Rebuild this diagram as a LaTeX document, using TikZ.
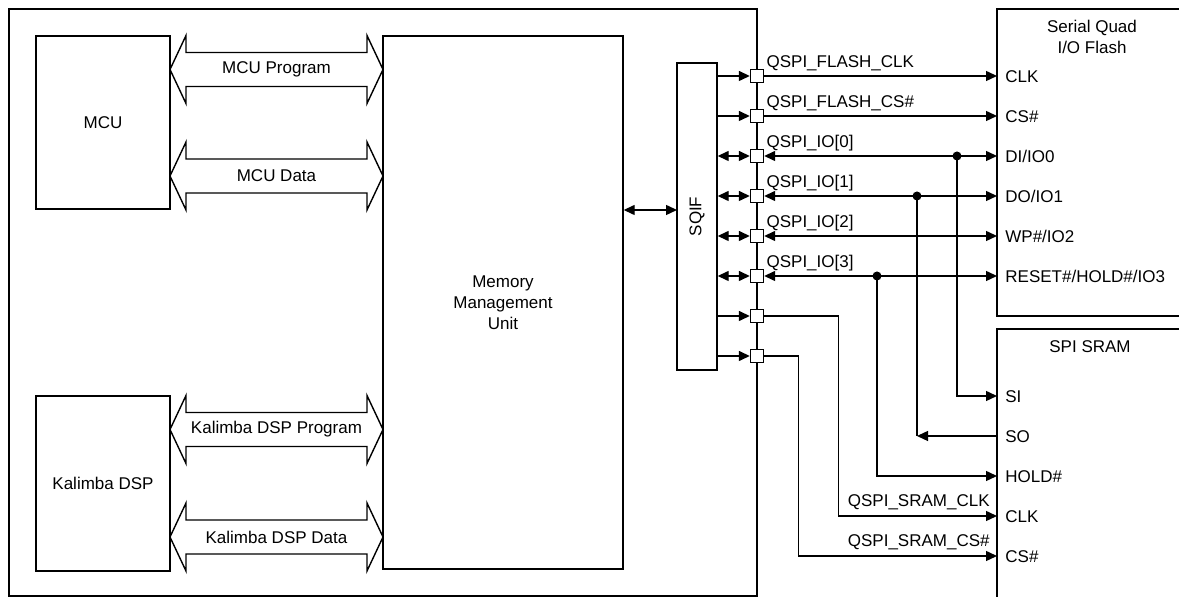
\documentclass[tikz,border=0pt]{standalone}
\usepackage{fontspec}
\setmainfont{Liberation Sans}
\usetikzlibrary{arrows.meta,positioning}

\tikzset{
  >={Triangle[length=5.5pt,width=5pt]},
  line/.style={line width=0.7pt},
  blk/.style={draw, line width=0.7pt, inner sep=0pt, align=center},
  pinsq/.style={draw, fill=white, line width=0.7pt, minimum size=6.5pt, inner sep=0pt},
  pinlbl/.style={anchor=west, inner xsep=4pt, inner ysep=0pt, text height=6.1pt, text depth=0pt},
  siglbl/.style={inner sep=0pt},
  dot/.style={fill=black}
}

% double-headed bus between the cores and the MMU
\newcommand{\busarrow}[3]{%
  \draw[line] (170,#1) -- ++(16,-34) -- ++(0,17) -- ++(181,0) -- ++(0,-17)
    -- ++(16,34) -- ++(-16,34) -- ++(0,-17) -- ++(-181,0) -- ++(0,17) -- cycle;
  \node (#2) at (276.5,#1) {#3};
}

\begin{document}
\begin{tikzpicture}[x=0.5pt,y=-0.5pt,font=\fontsize{8.5}{10.5}\selectfont]
  \useasboundingbox (0,0) rectangle (1179,597);

  % chip outline
  \draw[line] (9,9) rectangle (757,596);

  % cores, MMU and SQIF
  \node[blk, minimum width=67pt, minimum height=86.5pt] (mcu) at (103,122.5) {MCU};
  \node[blk, minimum width=67pt, minimum height=87.5pt] (dsp) at (103,483.5) {Kalimba DSP};
  \node[blk, minimum width=120pt, minimum height=266.5pt] (mmu) at (503,302.5) {Memory\\Management\\Unit};
  \node[blk, minimum width=20pt, minimum height=153.5pt] (sqif) at (697,216.5) {};
  \node[rotate=90] (sqiflbl) at (sqif.center) {SQIF};

  \busarrow{69.5}{mcuprog}{MCU Program}
  \busarrow{176}{mcudata}{MCU Data}
  \busarrow{429.5}{dspprog}{Kalimba DSP Program}
  \busarrow{537}{dspdata}{Kalimba DSP Data}

  \coordinate (sq) at (677,210);
  \draw[line,<->] (mmu.east |- sq) -- (sq);

  % external memories
  \draw[line] (997,9) rectangle (1190,316);
  \node[align=center] (flashttl) at (1092,36.5) {Serial Quad\\I/O Flash};
  \draw[line] (997,329) rectangle (1190,610);
  \node (sramttl) at (1090,347) {SPI SRAM};

  % pins
  \foreach \i in {1,...,8}
    \node[pinsq] (p\i) at (757,36+40*\i) {};

  \foreach \n/\t [count=\i] in {fclk/CLK, fcs/CS\#, fdi/{DI/IO0}, fdo/{DO/IO1}, fwp/{WP\#/IO2}, frst/{RESET\#/HOLD\#/IO3}}
    \node[pinlbl] (\n) at (997,36+40*\i) {\t};
  \foreach \n/\t [count=\i] in {ssi/SI, sso/SO, shold/HOLD\#, sclk/CLK, scs/CS\#}
    \node[pinlbl] (\n) at (997,356+40*\i) {\t};

  \foreach \t [count=\i] in {QSPI\_FLASH\_CLK, QSPI\_FLASH\_CS\#, {QSPI\_IO[0]}, {QSPI\_IO[1]}, {QSPI\_IO[2]}, {QSPI\_IO[3]}}
    \node[siglbl, anchor=base west] (l\i) at ([xshift=1pt,yshift=4pt]p\i.east) {\t};

  % SQIF to pins
  \foreach \i in {1,2,7,8}
    \draw[line,->] (sqif.east |- p\i) -- (p\i.west);
  \foreach \i in {3,...,6}
    \draw[line,<->] (sqif.east |- p\i) -- (p\i.west);

  % pins to flash
  \draw[line,->] (p1.east) -- (fclk.west);
  \draw[line,->] (p2.east) -- (fcs.west);
  \draw[line,<->] (p3.east) -- (fdi.west);
  \draw[line,<->] (p4.east) -- (fdo.west);
  \draw[line,<->] (p5.east) -- (fwp.west);
  \draw[line,<->] (p6.east) -- (frst.west);

  % taps to SRAM
  \coordinate (j0) at (957,156);
  \coordinate (j1) at (917,196);
  \coordinate (j3) at (877,276);
  \foreach \j in {j0,j1,j3}
    \fill[dot] (\j) circle (2.25pt);
  \draw[line,->] (j0) |- (ssi.west);
  \draw[line] (j1) -- (j1 |- sso);
  \draw[line,->] (sso.west) -- (j1 |- sso);
  \draw[line,->] (j3) |- (shold.west);
  \draw[line,->] (p7.east) -- ++(74,0) |- (sclk.west);
  \draw[line,->] (p8.east) -- ++(34,0) |- (scs.west);
  \node[siglbl, anchor=base east] (l7) at ([xshift=-3.5pt,yshift=4.5pt]sclk.west) {QSPI\_SRAM\_CLK};
  \node[siglbl, anchor=base east] (l8) at ([xshift=-3.5pt,yshift=4.5pt]scs.west) {QSPI\_SRAM\_CS\#};
\end{tikzpicture}
\end{document}
